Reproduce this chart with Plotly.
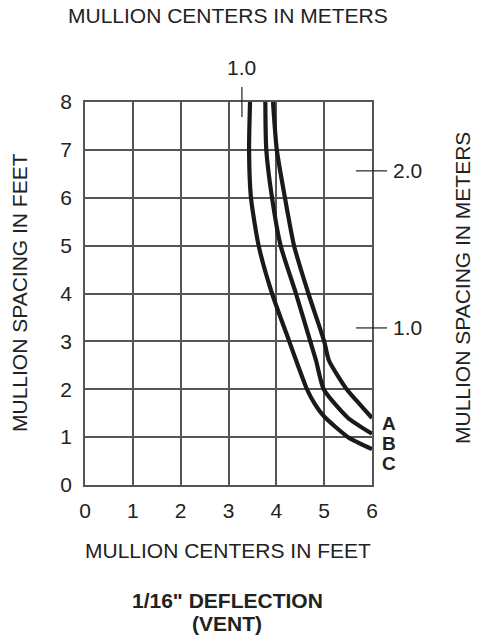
import plotly.graph_objects as go

# ---- data (feet) ----
x_tick_vals = [0, 1, 2, 3, 4, 5, 6]
y_tick_vals = [0, 1, 2, 3, 4, 5, 6, 7, 8]
meter_tick_vals = [1.0, 2.0]        # right axis (mullion spacing, m)
top_meter_tick_vals = [1.0]         # top axis (mullion centers, m)
FT_PER_M = 3.28084

curve_names = ["A", "B", "C"]
a_x = [3.93, 4.01, 4.18, 4.37, 4.67, 5.00, 5.10, 5.47, 5.75, 6.00]
a_y = [8.0, 7.0, 6.0, 5.0, 4.0, 3.0, 2.6, 2.0, 1.68, 1.40]
b_x = [3.77, 3.79, 3.91, 4.09, 4.41, 4.71, 4.83, 4.99, 5.50, 6.00]
b_y = [8.0, 7.0, 6.0, 5.0, 4.0, 3.0, 2.6, 2.0, 1.40, 1.07]
c_x = [3.45, 3.43, 3.47, 3.63, 3.91, 4.27, 4.45, 4.64, 4.80, 5.00, 5.50, 6.00]
c_y = [8.0, 7.0, 6.0, 5.0, 4.0, 3.0, 2.5, 2.0, 1.70, 1.43, 1.00, 0.75]
label_y = [1.30, 0.88, 0.47]   # curve letter positions (ft)

FONT = "Liberation Sans, Arial, sans-serif"
TXT = "#222222"
GRID = "#555555"

fig = go.Figure()
for xs, ys in [(a_x, a_y), (b_x, b_y), (c_x, c_y)]:
    fig.add_trace(go.Scatter(x=xs, y=ys, mode="lines",
                             line=dict(color="#1a1a1a", width=4.2, shape="spline", smoothing=0.6),
                             showlegend=False, hoverinfo="skip"))

# screen plot area is x 85..372, y 102..485 (page body margin removed below)
W, H = 477, 640
L, T = 85, 102
R = W - 372
B = H - 485
pw, ph = W - L - R, H - T - B

def px(xs):   # screen x -> paper
    return (xs - L) / pw

def py(ys):   # screen y -> paper
    return (H - B - ys) / ph

fig.update_layout(
    width=W, height=H,
    margin=dict(l=L, r=R, t=T, b=B, pad=0),
    paper_bgcolor="white", plot_bgcolor="white",
    font=dict(family=FONT, size=21, color=TXT),
    xaxis=dict(range=[0, 6], tickvals=x_tick_vals, ticktext=[str(v) for v in x_tick_vals],
               showgrid=True, gridcolor=GRID, gridwidth=1.6, showline=True, mirror=True,
               linecolor=GRID, linewidth=1.6, zeroline=False, ticks="",
               ticklabelstandoff=6, tickfont=dict(size=21, color=TXT)),
    yaxis=dict(range=[0, 8], tickvals=y_tick_vals, ticktext=[str(v) for v in y_tick_vals],
               showgrid=True, gridcolor=GRID, gridwidth=1.6, showline=True, mirror=True,
               linecolor=GRID, linewidth=1.6, zeroline=False, ticks="",
               ticklabelstandoff=7, tickfont=dict(size=21, color=TXT)),
)

ann = []
ann.append(dict(text="MULLION CENTERS IN METERS", x=px(228), y=py(15), xref="paper", yref="paper",
                showarrow=False, xanchor="center", yanchor="middle",
                font=dict(size=21, color=TXT)))
ann.append(dict(text="MULLION CENTERS IN FEET", x=px(228), y=py(550), xref="paper", yref="paper",
                showarrow=False, xanchor="center", yanchor="middle", font=dict(size=21, color=TXT)))
ann.append(dict(text="<b>1/16\" DEFLECTION</b>", x=px(227), y=py(600), xref="paper", yref="paper",
                showarrow=False, xanchor="center", yanchor="middle", font=dict(size=21, color=TXT)))
ann.append(dict(text="<b>(VENT)</b>", x=px(227), y=py(623), xref="paper", yref="paper",
                showarrow=False, xanchor="center", yanchor="middle", font=dict(size=21, color=TXT)))
ann.append(dict(text="MULLION SPACING IN FEET", x=px(19), y=py(293), xref="paper", yref="paper",
                showarrow=False, textangle=-90, xanchor="center", yanchor="middle",
                font=dict(size=21, color=TXT)))
ann.append(dict(text="MULLION SPACING IN METERS", x=px(462), y=py(288), xref="paper", yref="paper",
                showarrow=False, textangle=-90, xanchor="center", yanchor="middle",
                font=dict(size=21, color=TXT)))

shapes = []
for m in top_meter_tick_vals:
    xv = m * FT_PER_M
    shapes.append(dict(type="line", xref="x", yref="paper", x0=xv, x1=xv, y0=py(87), y1=py(117),
                       line=dict(color=TXT, width=1.2)))
    ann.append(dict(text=f"{m:.1f}", x=xv, y=py(67), xref="x", yref="paper", showarrow=False,
                    xanchor="center", yanchor="middle", font=dict(size=21, color=TXT)))
for m in meter_tick_vals:
    yv = m * FT_PER_M
    shapes.append(dict(type="line", xref="paper", yref="y", x0=px(356), x1=px(387), y0=yv, y1=yv,
                       line=dict(color=TXT, width=1.2)))
    ann.append(dict(text=f"{m:.1f}", x=px(391), y=yv, xref="paper", yref="y", showarrow=False,
                    xanchor="left", yanchor="middle", font=dict(size=21, color=TXT)))
for name, ly in zip(curve_names, label_y):
    ann.append(dict(text=f"<b>{name}</b>", x=px(389), y=ly, xref="paper", yref="y", showarrow=False,
                    height=16, xanchor="center", yanchor="middle", font=dict(size=19, color=TXT)))

fig.update_layout(annotations=ann, shapes=shapes)
fig.write_html("out.html", config={"displayModeBar": False},
               post_script="document.body.style.margin='0';document.body.style.padding='0';")
